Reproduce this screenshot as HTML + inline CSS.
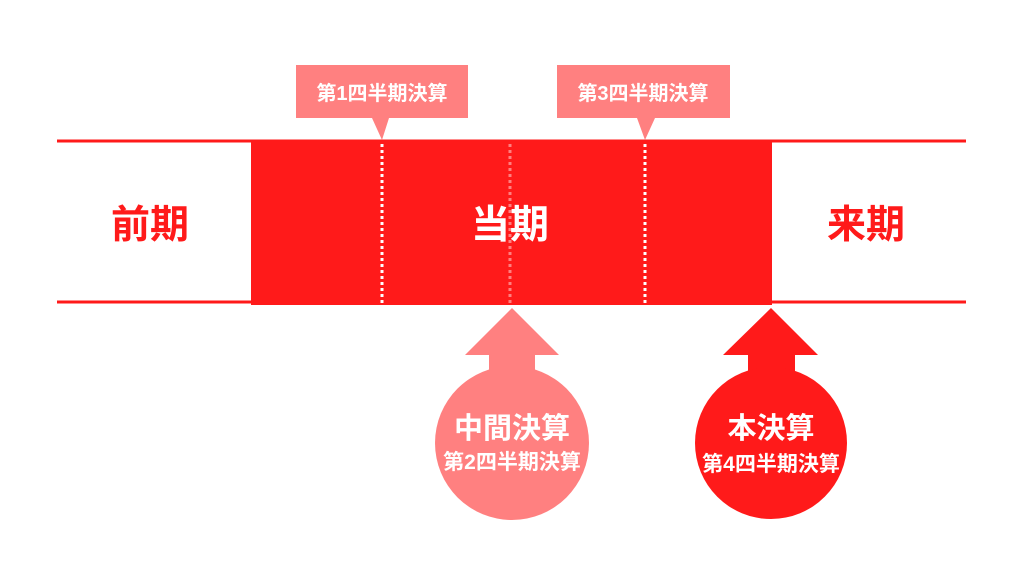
<!DOCTYPE html>
<html><head><meta charset="utf-8"><style>
body{margin:0;background:#fff;}
svg text{font-family:"Liberation Sans","Noto Sans CJK JP",sans-serif;}
</style></head><body>
<svg width="1024" height="576" viewBox="0 0 1024 576">
<line x1="57" y1="141" x2="966" y2="141" stroke="#ff1a1a" stroke-width="3"/>
<line x1="57" y1="302" x2="966" y2="302" stroke="#ff1a1a" stroke-width="3"/>
<rect x="251" y="140" width="521" height="165" fill="#ff1a1a"/>
<line x1="382" y1="144" x2="382" y2="304" stroke="#fff" stroke-width="3" stroke-dasharray="3,3"/>
<line x1="510" y1="144" x2="510" y2="304" stroke="#ff8080" stroke-width="3" stroke-dasharray="3,3"/>
<line x1="645" y1="144" x2="645" y2="304" stroke="#fff" stroke-width="3" stroke-dasharray="3,3"/>
<path d="M296,65H468V118H389L382,140L372,118H296Z" fill="#ff8080"/>
<path d="M557,65H730V118H655L645,140L637,118H557Z" fill="#ff8080"/>
<text x="382" y="100" font-size="20" fill="#fff" text-anchor="middle" font-weight="bold">第1四半期決算</text>
<text x="643" y="100" font-size="20" fill="#fff" text-anchor="middle" font-weight="bold">第3四半期決算</text>
<text x="150" y="238" font-size="39" fill="#ff1a1a" text-anchor="middle" font-weight="bold">前期</text>
<text x="510" y="238" font-size="39" fill="#fff" text-anchor="middle" font-weight="bold">当期</text>
<text x="866" y="238" font-size="39" fill="#ff1a1a" text-anchor="middle" font-weight="bold">来期</text>
<path d="M512,308L559,355H535V380H489V355H465Z" fill="#ff8080"/>
<circle cx="512" cy="443" r="77" fill="#ff8080"/>
<path d="M771,308L818,355H795V380H748V355H723Z" fill="#ff1a1a"/>
<circle cx="771" cy="443" r="76" fill="#ff1a1a"/>
<text x="512" y="438" font-size="29" fill="#fff" text-anchor="middle" font-weight="bold">中間決算</text>
<text x="512" y="469" font-size="21" fill="#fff" text-anchor="middle" font-weight="bold">第2四半期決算</text>
<text x="771" y="438" font-size="29" fill="#fff" text-anchor="middle" font-weight="bold">本決算</text>
<text x="771" y="471" font-size="21" fill="#fff" text-anchor="middle" font-weight="bold">第4四半期決算</text>
</svg>
</body></html>
